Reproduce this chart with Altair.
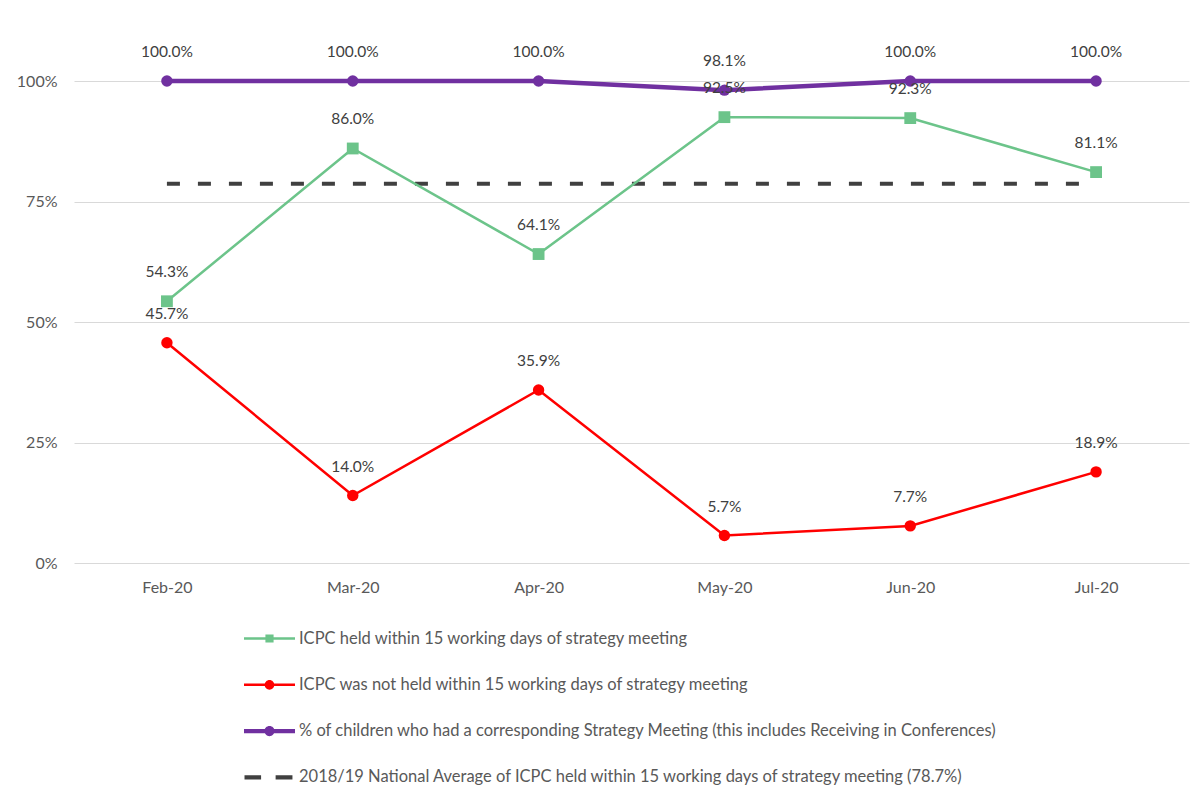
import altair as alt
import pandas as pd

months = ["Feb-20", "Mar-20", "Apr-20", "May-20", "Jun-20", "Jul-20"]
held = [54.3, 86.0, 64.1, 92.5, 92.3, 81.1]
not_held = [45.7, 14.0, 35.9, 5.7, 7.7, 18.9]
strategy = [100.0, 100.0, 100.0, 98.1, 100.0, 100.0]
national_avg = 78.7

S_HELD = "ICPC held within 15 working days of strategy meeting"
S_NOT = "ICPC was not held within 15 working days of strategy meeting"
S_STRAT = "% of children who had a corresponding Strategy Meeting (this includes Receiving in Conferences)"
S_AVG = "2018/19 National Average of ICPC held within 15 working days of strategy meeting (78.7%)"
series = [S_HELD, S_NOT, S_STRAT, S_AVG]
colors = ["#6cc48a", "#ff0000", "#7030a0", "#404040"]
CMAP = dict(zip(series, colors))

rows = []
for name, vals in [(S_HELD, held), (S_NOT, not_held), (S_STRAT, strategy),
                   (S_AVG, [national_avg] * len(months))]:
    for m, v in zip(months, vals):
        rows.append({"series": name, "month": m, "value": v / 100.0})
df = pd.DataFrame(rows)

FONT = "Lato"
TXT = "#595959"

# legend symbols: line + marker drawn as custom paths (all clockwise)
sym_held = ("M-1,-0.05L1,-0.05L1,0.05L-1,0.05Z "
            "M-0.16,-0.16L0.16,-0.16L0.16,0.16L-0.16,0.16Z")
sym_not = ("M-1,-0.05L1,-0.05L1,0.05L-1,0.05Z "
           "M-0.19,0A0.19,0.19 0 1,1 0.19,0A0.19,0.19 0 1,1 -0.19,0Z")
sym_strat = ("M-1,-0.08L1,-0.08L1,0.08L-1,0.08Z "
             "M-0.2,0A0.2,0.2 0 1,1 0.2,0A0.2,0.2 0 1,1 -0.2,0Z")
sym_avg = ("M-0.98,-0.08L-0.33,-0.08L-0.33,0.08L-0.98,0.08Z "
           "M0.24,-0.08L0.9,-0.08L0.9,0.08L0.24,0.08Z")

x_enc = alt.X("month:N", sort=months, title=None,
              scale=alt.Scale(type="point", padding=0.5),
              axis=alt.Axis(labelAngle=0, ticks=False, domain=False, grid=False,
                            labelPadding=16, labelFontSize=16, labelColor=TXT,
                            labelFont=FONT))
y_enc = alt.Y("value:Q", title=None,
              scale=alt.Scale(domain=[0, 1], nice=False),
              axis=alt.Axis(values=[0, 0.25, 0.5, 0.75, 1.0], format="%",
                            ticks=False, domain=False, gridColor="#d9d9d9",
                            labelPadding=17, labelFontSize=16, labelColor=TXT,
                            labelFont=FONT))

base = alt.Chart(df).encode(x=x_enc, y=y_enc)


def sel(name):
    return alt.datum.series == name


line_avg = base.transform_filter(sel(S_AVG)).mark_line(
    strokeWidth=4, strokeDash=[13, 18], strokeCap="butt", color=CMAP[S_AVG])
line_held = base.transform_filter(sel(S_HELD)).mark_line(
    strokeWidth=2.5, color=CMAP[S_HELD])
line_not = base.transform_filter(sel(S_NOT)).mark_line(
    strokeWidth=2.5, color=CMAP[S_NOT])
line_strat = base.transform_filter(sel(S_STRAT)).mark_line(
    strokeWidth=4.5, color=CMAP[S_STRAT])

pt_held = base.transform_filter(sel(S_HELD)).mark_point(
    filled=True, shape="square", size=140, opacity=1, color=CMAP[S_HELD])
pt_not = base.transform_filter(sel(S_NOT)).mark_point(
    filled=True, shape="circle", size=130, opacity=1, color=CMAP[S_NOT])
pt_strat = base.transform_filter(sel(S_STRAT)).mark_point(
    filled=True, shape="circle", size=130, opacity=1, color=CMAP[S_STRAT])

labels = base.transform_filter(alt.datum.series != S_AVG).mark_text(
    dy=-29, fontSize=15.5, font=FONT, color="#404040"
).encode(text=alt.Text("value:Q", format=".1%"))

legend_def = alt.Legend(
    title=None, orient="none", legendX=170, legendY=532, direction="vertical",
    symbolSize=2601, symbolStrokeWidth=0, symbolOpacity=1,
    labelFont=FONT, labelFontSize=16.5, labelColor=TXT, labelOffset=4,
    labelLimit=900, rowPadding=12.3)

# invisible (size 0) points whose only job is to carry the legend
legend_layer = alt.Chart(df).transform_filter(
    alt.datum.month == months[0]
).mark_point(filled=True, size=0).encode(
    x=alt.X("month:N", sort=months),
    y=alt.Y("value:Q"),
    fill=alt.Fill("series:N", scale=alt.Scale(domain=series, range=colors),
                  legend=legend_def),
    shape=alt.Shape("series:N",
                    scale=alt.Scale(domain=series,
                                    range=[sym_held, sym_not, sym_strat, sym_avg]),
                    legend=legend_def),
)

chart = alt.layer(
    line_avg, line_held, line_not, line_strat,
    pt_held, pt_not, pt_strat, labels, legend_layer
).properties(
    width=1115, height=482,
    autosize=alt.AutoSizeParams(type="none"),
    padding={"left": 74, "top": 81, "right": 6, "bottom": 249},
    background="white",
).configure_view(stroke=None)

chart.save("out.html", embed_options={"renderer": "svg", "actions": False})
